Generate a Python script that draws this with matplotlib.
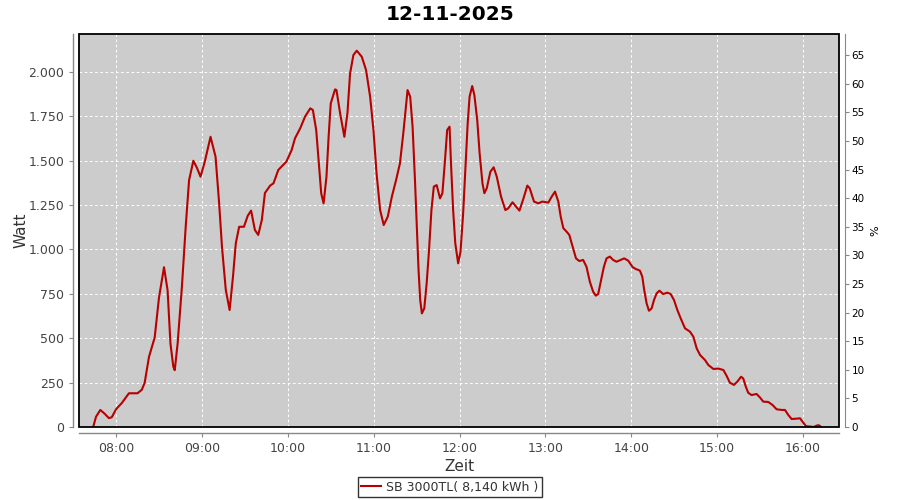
import matplotlib
matplotlib.use("Agg")
import matplotlib.pyplot as plt
from matplotlib.ticker import FuncFormatter, FixedLocator
from matplotlib.patches import Rectangle

plt.rcParams['font.family'] = ['DejaVu Sans']

title = "12-11-2025"
series_name = "SB 3000TL( 8,140 kWh )"
x_label = "Zeit"
y_label = "Watt"
y2_label = "%"

times = [
    "07:44:00", "07:46:00", "07:49:00", "07:52:00", "07:55:00", "07:57:00", "08:00:00", "08:04:00",
    "08:09:00", "08:15:00", "08:18:00", "08:20:00", "08:23:00", "08:27:00", "08:30:00", "08:33:30",
    "08:36:00", "08:38:00", "08:40:00", "08:41:00", "08:43:00", "08:46:00", "08:48:40", "08:51:00",
    "08:54:00", "08:56:30", "08:59:00", "09:02:00", "09:06:00", "09:09:30", "09:12:00", "09:14:00",
    "09:16:40", "09:19:20", "09:21:40", "09:23:40", "09:26:00", "09:29:20", "09:32:00", "09:34:20",
    "09:37:00", "09:39:20", "09:41:50", "09:44:00", "09:47:40", "09:50:00", "09:53:20", "09:59:00",
    "10:02:40", "10:05:00", "10:08:40", "10:12:00", "10:15:40", "10:17:30", "10:19:50", "10:21:20",
    "10:23:20", "10:25:00", "10:27:00", "10:28:30", "10:30:00", "10:33:00", "10:34:00", "10:36:30",
    "10:39:30", "10:41:40", "10:43:30", "10:45:50", "10:48:10", "10:51:40", "10:54:40", "10:57:30",
    "10:59:50", "11:02:00", "11:04:30", "11:07:00", "11:09:50", "11:12:40", "11:15:40", "11:18:20",
    "11:20:40", "11:23:00", "11:23:40", "11:25:30", "11:27:10", "11:28:50", "11:30:10", "11:31:20",
    "11:32:30", "11:33:40", "11:35:20", "11:37:00", "11:38:40", "11:40:20", "11:42:00", "11:44:00",
    "11:46:20", "11:48:00", "11:49:50", "11:51:20", "11:53:00", "11:54:00", "11:55:30", "11:57:00",
    "11:59:00", "12:00:40", "12:02:30", "12:04:00", "12:05:40", "12:07:00", "12:08:50", "12:10:20",
    "12:12:20", "12:14:00", "12:16:00", "12:17:20", "12:19:00", "12:21:30", "12:23:50", "12:26:00",
    "12:29:00", "12:32:00", "12:34:00", "12:37:00", "12:39:30", "12:41:50", "12:44:40", "12:47:20",
    "12:49:00", "12:52:00", "12:55:00", "12:57:50", "13:02:00", "13:04:20", "13:06:40", "13:09:00",
    "13:10:40", "13:12:30", "13:14:50", "13:16:40", "13:19:00", "13:21:20", "13:23:40", "13:26:20",
    "13:28:40", "13:31:00", "13:33:20", "13:35:10", "13:36:50", "13:38:40", "13:40:50", "13:42:40",
    "13:45:00", "13:47:20", "13:49:40", "13:52:30", "13:55:00", "13:57:50", "14:01:00", "14:03:10",
    "14:06:00", "14:07:40", "14:09:00", "14:10:40", "14:12:20", "14:14:10", "14:15:50", "14:17:40",
    "14:19:40", "14:22:20", "14:25:10", "14:27:30", "14:29:50", "14:32:10", "14:34:30", "14:37:30",
    "14:41:00", "14:43:20", "14:45:40", "14:48:00", "14:51:30", "14:53:50", "14:57:20", "15:00:50",
    "15:04:20", "15:06:40", "15:08:50", "15:11:40", "15:14:00", "15:16:40", "15:18:10", "15:20:00",
    "15:21:40", "15:24:00", "15:27:30", "15:29:50", "15:32:10", "15:35:40", "15:38:40", "15:41:30",
    "15:45:00", "15:47:20", "15:49:40", "15:52:00", "15:55:30", "15:57:50", "15:59:40", "16:02:00",
    "16:07:30", "16:09:30", "16:11:00", "16:12:40",
]

watts = [
    0, 58, 96, 75, 50, 55, 100, 135,
    190, 190, 210, 250, 395, 505, 730, 900,
    770, 470, 340, 320, 470, 790, 1130, 1390,
    1500, 1460, 1410, 1495, 1635, 1523, 1262, 1014,
    772, 659, 845, 1036, 1128, 1128, 1190, 1219,
    1110, 1082, 1166, 1318, 1360, 1373, 1448, 1495,
    1560, 1626, 1683, 1748, 1795, 1786, 1673, 1523,
    1316, 1260, 1410, 1635, 1823, 1902, 1898, 1769,
    1635, 1769, 1992, 2096, 2120, 2086, 2011, 1861,
    1673, 1429, 1222, 1138, 1185, 1297, 1392, 1485,
    1654, 1842, 1898, 1861, 1692, 1392, 1128, 885,
    715, 640, 668, 809, 997, 1222, 1354, 1363,
    1288, 1317, 1504, 1673, 1692, 1486, 1222, 1035,
    922, 988, 1204, 1448, 1711, 1861, 1921, 1870,
    1730, 1542, 1373, 1317, 1345, 1438, 1463, 1410,
    1297, 1222, 1232, 1266, 1241, 1219, 1288, 1360,
    1345, 1270, 1260, 1270, 1264, 1297, 1326, 1270,
    1185, 1120, 1100, 1082, 1016, 950, 935, 941,
    903, 819, 762, 740, 749, 819, 903, 950,
    960, 941, 931, 941, 950, 937, 900, 890,
    881, 847, 772, 697, 655, 668, 715, 753,
    768, 749, 757, 749, 715, 659, 612, 556,
    537, 509, 443, 406, 377, 349, 327, 329,
    321, 287, 250, 237, 255, 283, 274, 227,
    193, 180, 186, 167, 143, 141, 124, 100,
    96, 96, 68, 45, 47, 49, 30, 5,
    0, 8, 10, 0,
]

x_ticks = ["08:00", "09:00", "10:00", "11:00", "12:00", "13:00", "14:00", "15:00", "16:00"]
x_range = ["07:34:06", "16:25:06"]
y_ticks = [0, 250, 500, 750, 1000, 1250, 1500, 1750, 2000]
y_max = 2214
y2_ticks = [0, 5, 10, 15, 20, 25, 30, 35, 40, 45, 50, 55, 60, 65]
y2_max = 68.7


def to_hours(s):
    parts = [int(p) for p in s.split(":")]
    while len(parts) < 3:
        parts.append(0)
    return parts[0] + parts[1] / 60 + parts[2] / 3600


x = [to_hours(t) for t in times]

fig = plt.figure(figsize=(9, 5), dpi=100, facecolor="white")
ax = fig.add_axes([79 / 900, 1 - 427 / 500, (839 - 79) / 900, (427 - 34) / 500])
ax.set_facecolor("#cccccc")

line, = ax.plot(x, watts, color="#b80000", lw=1.5, zorder=3)

ax.set_xlim(to_hours(x_range[0]), to_hours(x_range[1]))
ax.set_ylim(0, y_max)
ax.xaxis.set_major_locator(FixedLocator([to_hours(t) for t in x_ticks]))
ax.set_xticklabels(x_ticks)
ax.yaxis.set_major_locator(FixedLocator(y_ticks))
ax.yaxis.set_major_formatter(FuncFormatter(lambda v, p: f"{int(v):,}".replace(",", ".")))

ax.grid(True, color="white", linestyle=(0, (2.5, 2.5)), linewidth=0.75)
ax.set_axisbelow(True)

gray = "#888888"
for side in ["left", "bottom"]:
    ax.spines[side].set_position(("outward", 4))
    ax.spines[side].set_color(gray)
    ax.spines[side].set_linewidth(1.0)
for side in ["top", "right"]:
    ax.spines[side].set_visible(False)

ax.add_patch(Rectangle((0, 0), 1, 1, transform=ax.transAxes, fill=False,
                       edgecolor="black", lw=1.3, zorder=5, clip_on=False))

ax.tick_params(axis="both", colors=gray, labelcolor="#444444", labelsize=9, length=3, width=0.8)
ax.set_xlabel(x_label, fontsize=11, color="#333333", labelpad=3)
ax.set_ylabel(y_label, fontsize=11, color="#333333", labelpad=0)

ax2 = ax.twinx()
ax2.set_ylim(0, y2_max)
ax2.yaxis.set_major_locator(FixedLocator(y2_ticks))
for side in ["left", "bottom", "top"]:
    ax2.spines[side].set_visible(False)
ax2.spines["right"].set_position(("outward", 4))
ax2.spines["right"].set_color(gray)
ax2.tick_params(axis="y", colors=gray, labelcolor="black", labelsize=7.5, length=3, width=0.8, pad=2)
ax2.set_ylabel(y2_label, fontsize=8, color="black", labelpad=4)

fig.suptitle(title, fontsize=14.5, fontweight="bold", y=0.99)

leg = fig.legend([line], [series_name], loc="center", bbox_to_anchor=(0.5, 0.026),
                 frameon=True, fancybox=False, fontsize=9, handlelength=1.6,
                 borderpad=0.3, handletextpad=0.4, labelcolor="#333333")
leg.get_frame().set_edgecolor("black")
leg.get_frame().set_linewidth(1.0)

fig.savefig("out.png", dpi=100, facecolor="white")
